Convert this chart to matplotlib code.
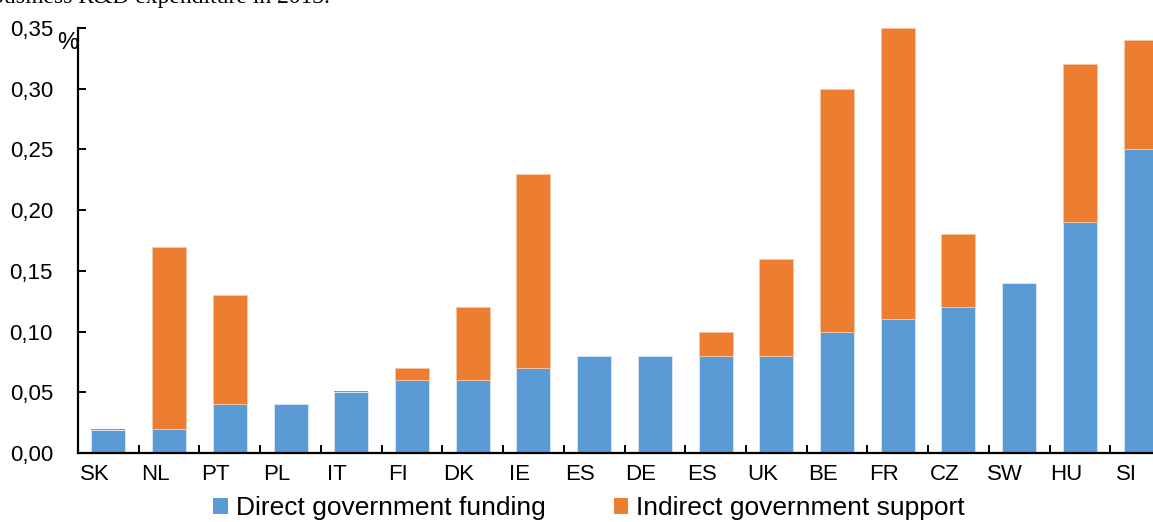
import matplotlib
matplotlib.use("Agg")
import matplotlib.pyplot as plt
import matplotlib.transforms as mtransforms
from matplotlib import font_manager
from matplotlib.patches import Patch
import numpy as np

countries = ["SK", "NL", "PT", "PL", "IT", "FI", "DK", "IE", "ES", "DE",
             "ES", "UK", "BE", "FR", "CZ", "SW", "HU", "SI"]
direct = [0.019, 0.02, 0.04, 0.04, 0.05, 0.06, 0.06, 0.07, 0.08, 0.08,
          0.08, 0.08, 0.10, 0.11, 0.12, 0.14, 0.19, 0.25]
indirect = [0.001, 0.15, 0.09, 0.0, 0.001, 0.01, 0.06, 0.16, 0.0, 0.0,
            0.02, 0.08, 0.20, 0.24, 0.06, 0.0, 0.13, 0.09]
yticks = [0.00, 0.05, 0.10, 0.15, 0.20, 0.25, 0.30, 0.35]
ytick_labels = ["0,00", "0,05", "0,10", "0,15", "0,20", "0,25", "0,30", "0,35"]
legend_labels = ["Direct government funding", "Indirect government support"]

BLUE = "#5B9BD5"
ORANGE = "#ED7D31"
plt.rcParams['font.family'] = ['Liberation Sans', 'DejaVu Sans']

names = {f.name for f in font_manager.fontManager.ttflist}
if "Liberation Sans Narrow" in names:
    tick_family = ["Liberation Sans Narrow", "Liberation Sans"]
    tick_size = 18.5
else:
    tick_family = ["Liberation Sans", "DejaVu Sans"]
    tick_size = 16

W, H = 1153, 522
fig = plt.figure(figsize=(W / 100, H / 100), dpi=100)
left, right, bottom, top = 78, 1171, 453, 28
ax = fig.add_axes([left / W, 1 - bottom / H, (right - left) / W, (bottom - top) / H])

x = np.arange(len(countries))
ax.bar(x, direct, width=0.56, color=BLUE, edgecolor="#dbe8f5", linewidth=0.6)
ax.bar(x, indirect, width=0.56, bottom=direct, color=ORANGE, edgecolor="#f6c7a6",
       linewidth=[0.6 if v > 0.002 else 0.0 for v in indirect])

ax.set_xlim(-0.5, len(countries) - 0.5)
ax.set_ylim(0, 0.35)
ax.set_yticks(yticks)
ax.set_yticklabels(ytick_labels, family=tick_family, fontsize=tick_size)
ax.set_xticks(x)
ax.set_xticklabels(countries, family=tick_family, fontsize=tick_size)
ax.set_xticks(np.arange(len(countries) + 1) - 0.5, minor=True)

for s in ["top", "right"]:
    ax.spines[s].set_visible(False)
for s in ["left", "bottom"]:
    ax.spines[s].set_linewidth(1.6)
    ax.spines[s].set_color("black")

ax.tick_params(axis="x", which="major", length=0, pad=8)
ax.tick_params(axis="x", which="minor", direction="in", length=6, width=1.4)
ax.tick_params(axis="y", direction="in", length=6, width=1.4, pad=18)

offset = mtransforms.ScaledTranslation(-14 / 100, 0, fig.dpi_scale_trans)
for lab in ax.get_xticklabels():
    lab.set_transform(lab.get_transform() + offset)

fig.text(57 / W, 1 - 43 / H, "%", fontsize=tick_size + 1, family=tick_family, va="center", ha="left")
fig.text(-8 / W, 1 + 3 / H, "business R&D expenditure in 2013.", fontsize=17,
         family="Liberation Serif", va="center", ha="left")

handles = [Patch(facecolor=BLUE), Patch(facecolor=ORANGE)]
fig.legend(handles, legend_labels, loc="center", bbox_to_anchor=(589 / W, 1 - 508 / H),
           ncol=2, frameon=False, fontsize=19, handlelength=0.55, handleheight=0.55,
           handletextpad=0.3, columnspacing=2.6, borderaxespad=0, borderpad=0)

fig.savefig("out.png", dpi=100)
